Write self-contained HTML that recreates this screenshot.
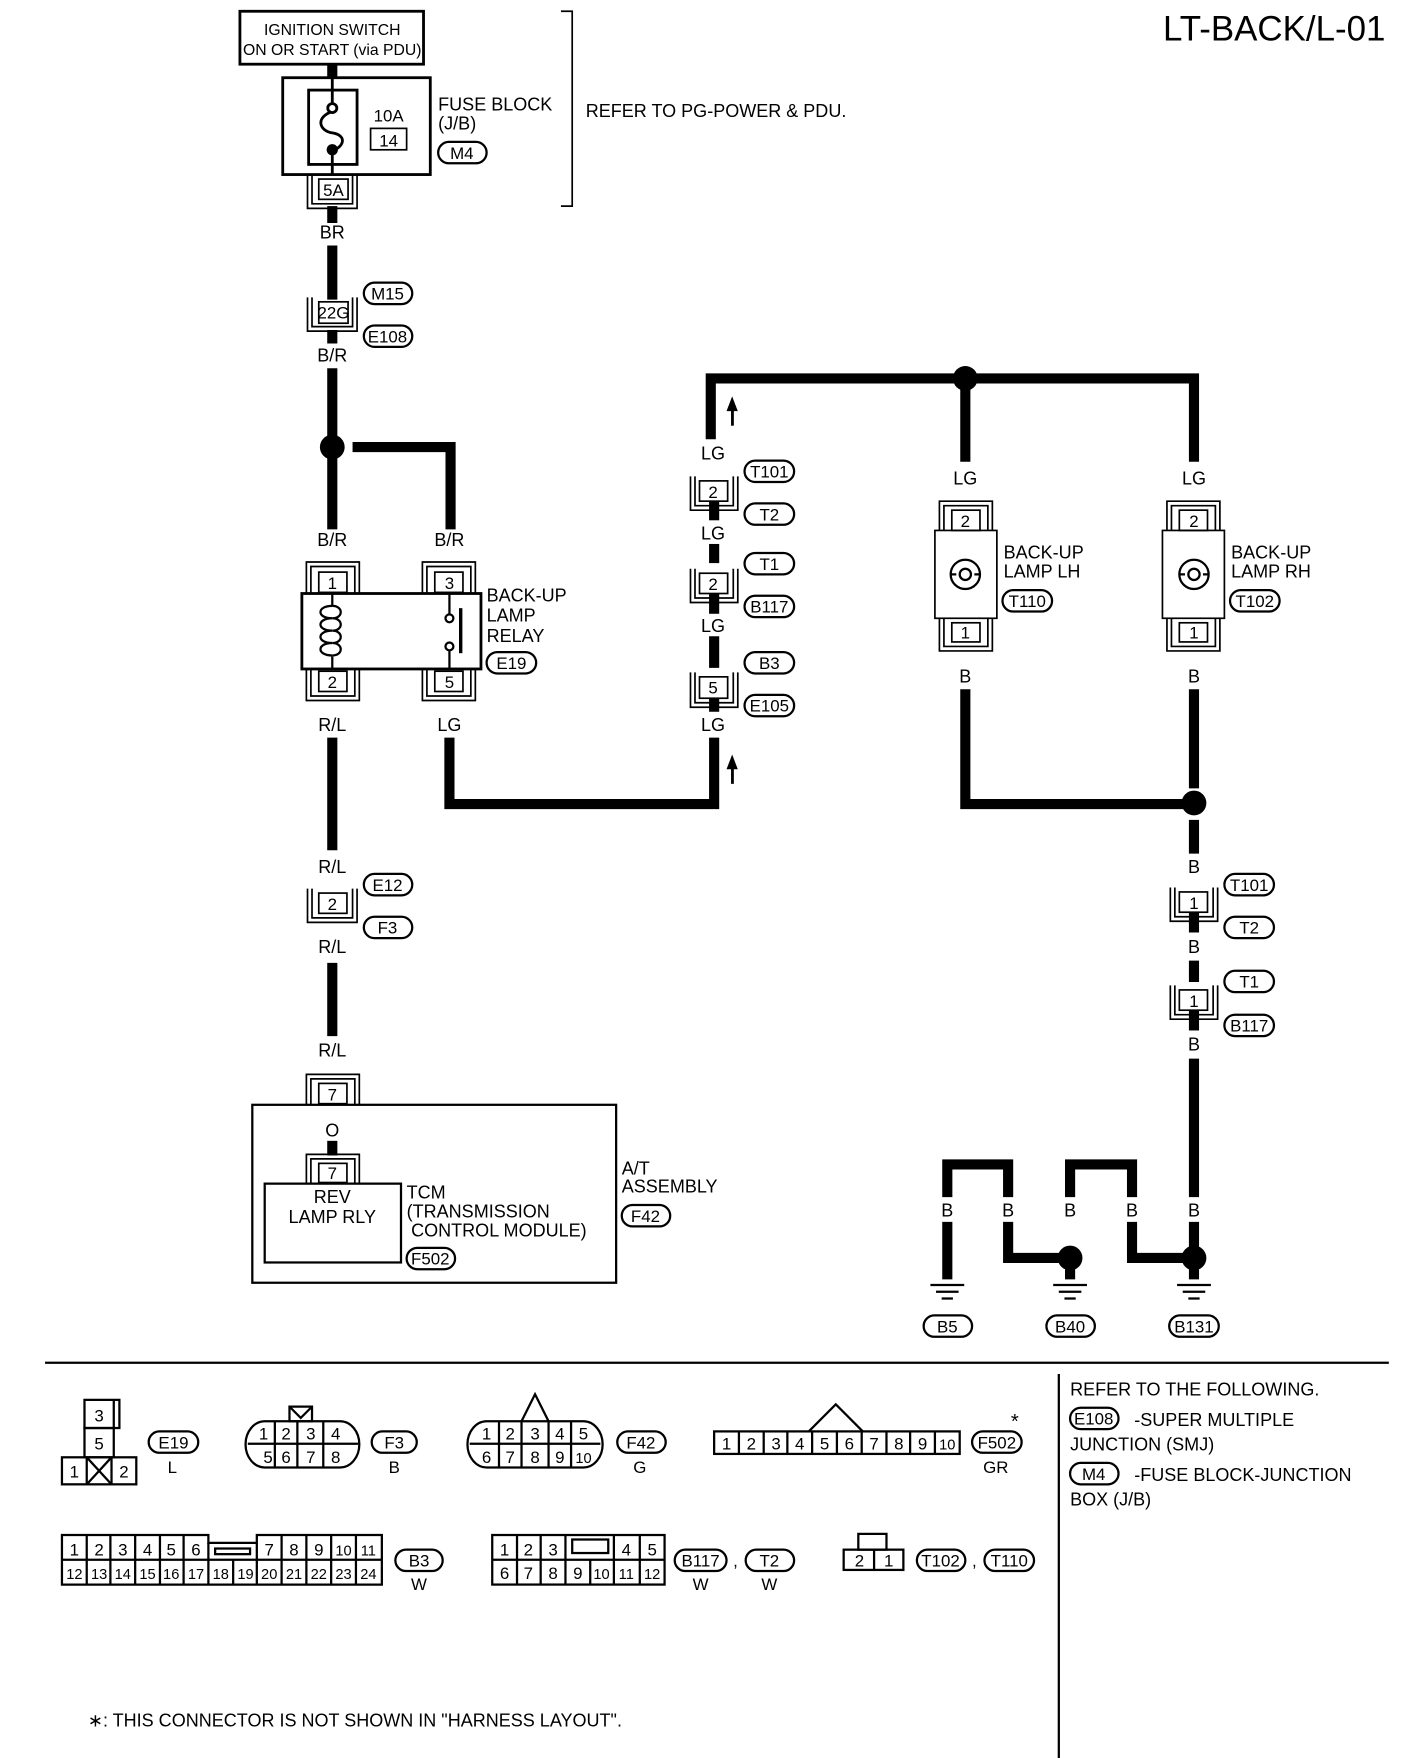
<!DOCTYPE html>
<html><head><meta charset="utf-8"><style>
html,body{margin:0;padding:0;background:#fff}
svg{display:block}
text{font-family:"Liberation Sans",sans-serif;fill:#000}
</style></head><body>
<svg width="1408" height="1758" viewBox="0 0 1250 1561" preserveAspectRatio="none" xmlns="http://www.w3.org/2000/svg">
<g fill="none" stroke="#000" stroke-width="2">
<!-- title -->
</g>
<text x="1230" y="36" font-size="31" text-anchor="end">LT-BACK/L-01</text>

<!-- ignition -->
<rect x="213" y="10" width="163" height="47" fill="none" stroke="#000" stroke-width="2.5"/>
<text x="295" y="31" font-size="14" text-anchor="middle">IGNITION SWITCH</text>
<text x="295" y="49" font-size="14" text-anchor="middle">ON OR START (via PDU)</text>

<g stroke="#000" stroke-width="9" fill="none">
<line x1="295" y1="57" x2="295" y2="70"/>
<line x1="295" y1="183" x2="295" y2="198"/>
<line x1="295" y1="218" x2="295" y2="266"/>
<line x1="295" y1="293" x2="295" y2="305"/>
<line x1="295" y1="327" x2="295" y2="470"/>
<polyline points="313,397 400,397 400,470"/>
<line x1="295" y1="655" x2="295" y2="755"/>
<line x1="295" y1="855" x2="295" y2="920"/>
<line x1="295" y1="1013" x2="295" y2="1026"/>
<polyline points="399,655 399,714 634,714 634,655"/>
<line x1="634" y1="620" x2="634" y2="632"/>
<line x1="634" y1="565" x2="634" y2="593"/>
<line x1="634" y1="527" x2="634" y2="545"/>
<line x1="634" y1="483" x2="634" y2="500"/>
<line x1="634" y1="445" x2="634" y2="462"/>
<polyline points="631,390 631,336 1060,336 1060,410"/>
<line x1="857" y1="336" x2="857" y2="410"/>
<polyline points="857,612 857,714 1060,714"/>
<line x1="1060" y1="612" x2="1060" y2="700"/>
<line x1="1060" y1="728" x2="1060" y2="758"/>
<line x1="1060" y1="810" x2="1060" y2="828"/>
<line x1="1060" y1="853" x2="1060" y2="872"/>
<line x1="1060" y1="897" x2="1060" y2="915"/>
<line x1="1060" y1="940" x2="1060" y2="1063"/>
<polyline points="841,1063 841,1034 895,1034 895,1063"/>
<polyline points="950,1063 950,1034 1005,1034 1005,1063"/>
<line x1="841" y1="1085" x2="841" y2="1136"/>
<polyline points="895,1085 895,1117 950,1117"/>
<polyline points="1005,1085 1005,1117 1060,1117"/>
<line x1="1060" y1="1085" x2="1060" y2="1136"/>
<line x1="950" y1="1117" x2="950" y2="1136"/>
</g>
<g fill="#000">
<circle cx="295" cy="397" r="11"/>
<circle cx="857" cy="336" r="11"/>
<circle cx="1060" cy="713" r="11"/>
<circle cx="950" cy="1117" r="11"/>
<circle cx="1060" cy="1117" r="11"/>
<polygon points="650,352 645,365 655,365"/><rect x="649" y="363" width="2.5" height="15"/>
<polygon points="650,670 645,683 655,683"/><rect x="649" y="681" width="2.5" height="15"/>
</g>

<!-- fuse block -->
<g fill="none" stroke="#000" stroke-width="2.5">
<rect x="251" y="69" width="131" height="86"/>
<rect x="274" y="80" width="43" height="66"/>
<line x1="295" y1="70" x2="295" y2="92"/>
<line x1="295" y1="136" x2="295" y2="155"/>
<path d="M295,99 C280,104 283,116 295,118 C308,120 306,130 295,134"/>
<circle cx="295" cy="96" r="4" fill="#fff"/>
<rect x="329" y="114" width="32" height="19" stroke-width="1.5"/>
<path d="M498,10 H508 V183 H498" stroke-width="1.5"/>
</g>
<circle cx="295" cy="133" r="5"/>
<text x="345" y="108" font-size="15" text-anchor="middle">10A</text>
<text x="345" y="130" font-size="15" text-anchor="middle">14</text>
<text x="389" y="98" font-size="16">FUSE BLOCK</text>
<text x="389" y="115" font-size="16">(J/B)</text>
<text x="520" y="104" font-size="16">REFER TO PG-POWER &amp; PDU.</text>

<!-- connector helper drawings -->
<g fill="none" stroke="#000" stroke-width="1.5">
<!-- 5A -->
<rect x="283" y="159" width="26" height="18"/>
<path d="M277,155 V181 H313 V155 M273,155 V185 H317 V155"/>
<!-- 22G -->
<rect x="283" y="268" width="26" height="19"/>
<path d="M277,264 V290 H313 V264 M273,264 V294 H317 V264"/>
<!-- relay pins -->
<rect x="283" y="508" width="25" height="18"/><path d="M276,527 V503 H315 V527 M272,527 V499 H319 V527"/>
<rect x="386" y="508" width="25" height="18"/><path d="M379,527 V503 H418 V527 M375,527 V499 H422 V527"/>
<rect x="283" y="596" width="25" height="18"/><path d="M276,594 V618 H315 V594 M272,594 V622 H319 V594"/>
<rect x="386" y="596" width="25" height="18"/><path d="M379,594 V618 H418 V594 M375,594 V622 H422 V594"/>
<!-- E12 2 -->
<rect x="283" y="793" width="25" height="18"/><path d="M277,789 V815 H313 V789 M273,789 V819 H317 V789"/>
<!-- 7 top -->
<rect x="283" y="962" width="25" height="18"/><path d="M276,981 V958 H315 V981 M272,981 V954 H319 V981"/>
<rect x="283" y="1033" width="25" height="17"/><path d="M276,1051 V1029 H315 V1051 M272,1051 V1025 H319 V1051"/>
<!-- LG column connectors -->
<rect x="621" y="427" width="25" height="18"/><path d="M617,423 V449 H651 V423 M613,423 V453 H655 V423"/>
<rect x="621" y="509" width="25" height="18"/><path d="M617,505 V531 H651 V505 M613,505 V535 H655 V505"/>
<rect x="621" y="601" width="25" height="19"/><path d="M617,597 V624 H651 V597 M613,597 V628 H655 V597"/>
<!-- B column -->
<rect x="1047" y="792" width="25" height="18"/><path d="M1043,788 V814 H1077 V788 M1039,788 V818 H1081 V788"/>
<rect x="1047" y="879" width="25" height="18"/><path d="M1043,875 V901 H1077 V875 M1039,875 V905 H1081 V875"/>
<!-- lamps -->
<rect x="845" y="453" width="25" height="18"/><path d="M838,471 V449 H877 V471 M834,471 V445 H881 V471"/>
<rect x="830" y="471" width="55" height="78"/>
<rect x="845" y="553" width="25" height="17"/><path d="M838,549 V574 H877 V549 M834,549 V578 H881 V549"/>
<rect x="1047" y="453" width="25" height="18"/><path d="M1040,471 V449 H1079 V471 M1036,471 V445 H1083 V471"/>
<rect x="1032" y="471" width="55" height="78"/>
<rect x="1047" y="553" width="25" height="17"/><path d="M1040,549 V574 H1079 V549 M1036,549 V578 H1083 V549"/>
</g>
<g fill="none" stroke="#000" stroke-width="2">
<circle cx="857" cy="510" r="13"/><path d="M852,510 a5,5 0 1,1 10,0 a5,5 0 1,1 -10,0 M844,510 H849 M865,510 H870"/>
<circle cx="1060" cy="510" r="13"/><path d="M1055,510 a5,5 0 1,1 10,0 a5,5 0 1,1 -10,0 M1047,510 H1052 M1068,510 H1073"/>
<!-- relay body -->
<rect x="268" y="527" width="159" height="67" stroke-width="2.5"/>
<line x1="295" y1="527" x2="295" y2="538"/><line x1="295" y1="583" x2="295" y2="594"/>
<path d="M295,538 c-14,0 -14,11 0,11 c-14,0 -14,11 0,11 c-14,0 -14,11 0,11 c-14,0 -14,11 0,11"/>
<path d="M295,538 c10,0 10,11 0,11 c10,0 10,11 0,11 c10,0 10,11 0,11 c10,0 10,11 0,11"/>
<line x1="399" y1="527" x2="399" y2="545"/><line x1="399" y1="577" x2="399" y2="594"/>
<circle cx="399" cy="549" r="3.5" fill="#fff"/><circle cx="399" cy="574" r="3.5" fill="#fff"/>
<line x1="409" y1="540" x2="409" y2="580" stroke-width="3"/>
<!-- AT assembly -->
<rect x="224" y="981" width="323" height="158"/>
<rect x="235" y="1051" width="121" height="70"/>
</g>

<!-- ground symbols -->
<g stroke="#000" stroke-width="2">
<line x1="826" y1="1141" x2="856" y2="1141"/><line x1="831" y1="1147" x2="851" y2="1147"/><line x1="836" y1="1153" x2="846" y2="1153"/>
<line x1="935" y1="1141" x2="965" y2="1141"/><line x1="940" y1="1147" x2="960" y2="1147"/><line x1="945" y1="1153" x2="955" y2="1153"/>
<line x1="1045" y1="1141" x2="1075" y2="1141"/><line x1="1050" y1="1147" x2="1070" y2="1147"/><line x1="1055" y1="1153" x2="1065" y2="1153"/>
<line x1="40" y1="1210" x2="1233" y2="1210"/>
<line x1="940" y1="1220" x2="940" y2="1561"/>
</g>

<!-- ovals -->
<g fill="none" stroke="#000" stroke-width="2">
<rect x="389" y="126" width="43" height="19" rx="9.5"/>
<rect x="323" y="251" width="43" height="19" rx="9.5"/>
<rect x="323" y="289" width="43" height="19" rx="9.5"/>
<rect x="432" y="579" width="44" height="19" rx="9.5"/>
<rect x="323" y="776" width="43" height="19" rx="9.5"/>
<rect x="323" y="814" width="43" height="19" rx="9.5"/>
<rect x="361" y="1108" width="43" height="19" rx="9.5"/>
<rect x="552" y="1070" width="43" height="19" rx="9.5"/>
<rect x="661" y="409" width="44" height="19" rx="9.5"/>
<rect x="661" y="447" width="44" height="19" rx="9.5"/>
<rect x="661" y="491" width="44" height="19" rx="9.5"/>
<rect x="661" y="529" width="44" height="19" rx="9.5"/>
<rect x="661" y="579" width="44" height="19" rx="9.5"/>
<rect x="661" y="617" width="44" height="19" rx="9.5"/>
<rect x="890" y="524" width="44" height="19" rx="9.5"/>
<rect x="1092" y="524" width="44" height="19" rx="9.5"/>
<rect x="1087" y="776" width="44" height="19" rx="9.5"/>
<rect x="1087" y="814" width="44" height="19" rx="9.5"/>
<rect x="1087" y="862" width="44" height="19" rx="9.5"/>
<rect x="1087" y="901" width="44" height="19" rx="9.5"/>
<rect x="820" y="1168" width="43" height="19" rx="9.5"/>
<rect x="929" y="1168" width="43" height="19" rx="9.5"/>
<rect x="1038" y="1168" width="44" height="19" rx="9.5"/>
<rect x="950" y="1250" width="43" height="19" rx="9.5"/>
<rect x="950" y="1299" width="43" height="19" rx="9.5"/>
<rect x="132" y="1271" width="44" height="19" rx="9.5"/>
<rect x="330" y="1271" width="40" height="19" rx="9.5"/>
<rect x="548" y="1271" width="43" height="19" rx="9.5"/>
<rect x="863" y="1271" width="44" height="19" rx="9.5"/>
<rect x="351" y="1376" width="42" height="19" rx="9.5"/>
<rect x="599" y="1376" width="46" height="19" rx="9.5"/>
<rect x="662" y="1376" width="43" height="19" rx="9.5"/>
<rect x="814" y="1376" width="43" height="19" rx="9.5"/>
<rect x="874" y="1376" width="44" height="19" rx="9.5"/>
</g>
<g font-size="15" text-anchor="middle">
<text x="410" y="141">M4</text>
<text x="344" y="266">M15</text>
<text x="344" y="304">E108</text>
<text x="454" y="594">E19</text>
<text x="344" y="791">E12</text>
<text x="344" y="829">F3</text>
<text x="382" y="1123">F502</text>
<text x="573" y="1085">F42</text>
<text x="683" y="424">T101</text>
<text x="683" y="462">T2</text>
<text x="683" y="506">T1</text>
<text x="683" y="544">B117</text>
<text x="683" y="594">B3</text>
<text x="683" y="632">E105</text>
<text x="912" y="539">T110</text>
<text x="1114" y="539">T102</text>
<text x="1109" y="791">T101</text>
<text x="1109" y="829">T2</text>
<text x="1109" y="877">T1</text>
<text x="1109" y="916">B117</text>
<text x="841" y="1183">B5</text>
<text x="950" y="1183">B40</text>
<text x="1060" y="1183">B131</text>
<text x="971" y="1265">E108</text>
<text x="971" y="1314">M4</text>
<text x="154" y="1286">E19</text>
<text x="350" y="1286">F3</text>
<text x="569" y="1286">F42</text>
<text x="885" y="1286">F502</text>
<text x="372" y="1391">B3</text>
<text x="622" y="1391">B117</text>
<text x="683" y="1391">T2</text>
<text x="835" y="1391">T102</text>
<text x="896" y="1391">T110</text>
</g>
<!-- pin numbers / wire labels -->
<g font-size="15" text-anchor="middle">
<text x="296" y="174">5A</text>
<text x="296" y="283">22G</text>
<text x="295" y="523">1</text><text x="399" y="523">3</text>
<text x="295" y="611">2</text><text x="399" y="611">5</text>
<text x="295" y="808">2</text>
<text x="295" y="977">7</text>
<text x="295" y="1047">7</text>
<text x="633" y="442">2</text><text x="633" y="524">2</text><text x="633" y="616">5</text>
<text x="857" y="468">2</text><text x="857" y="567">1</text>
<text x="1060" y="468">2</text><text x="1060" y="567">1</text>
<text x="1060" y="807">1</text><text x="1060" y="894">1</text>
</g>
<g font-size="16" text-anchor="middle">
<text x="295" y="212">BR</text>
<text x="295" y="321">B/R</text>
<text x="295" y="485">B/R</text><text x="399" y="485">B/R</text>
<text x="295" y="649">R/L</text><text x="399" y="649">LG</text>
<text x="295" y="775">R/L</text><text x="295" y="846">R/L</text><text x="295" y="938">R/L</text>
<text x="295" y="1009">O</text>
<text x="633" y="408">LG</text><text x="633" y="479">LG</text><text x="633" y="561">LG</text><text x="633" y="649">LG</text>
<text x="857" y="430">LG</text><text x="1060" y="430">LG</text>
<text x="857" y="606">B</text><text x="1060" y="606">B</text>
<text x="1060" y="775">B</text><text x="1060" y="846">B</text><text x="1060" y="933">B</text>
<text x="841" y="1080">B</text><text x="895" y="1080">B</text><text x="950" y="1080">B</text><text x="1005" y="1080">B</text><text x="1060" y="1080">B</text>
<text x="295" y="1068">REV</text>
<text x="295" y="1086">LAMP RLY</text>
</g>
<g font-size="16">
<text x="432" y="534">BACK-UP</text><text x="432" y="552">LAMP</text><text x="432" y="570">RELAY</text>
<text x="891" y="496">BACK-UP</text><text x="891" y="513">LAMP LH</text>
<text x="1093" y="496">BACK-UP</text><text x="1093" y="513">LAMP RH</text>
<text x="361" y="1064">TCM</text><text x="361" y="1081">(TRANSMISSION</text><text x="365" y="1098">CONTROL MODULE)</text>
<text x="552" y="1043">A/T</text><text x="552" y="1059">ASSEMBLY</text>
<text x="950" y="1239">REFER TO THE FOLLOWING.</text>
<text x="1007" y="1266">-SUPER MULTIPLE</text>
<text x="950" y="1288">JUNCTION (SMJ)</text>
<text x="1007" y="1315">-FUSE BLOCK-JUNCTION</text>
<text x="950" y="1337">BOX (J/B)</text>
<text x="78" y="1533">∗: THIS CONNECTOR IS NOT SHOWN IN "HARNESS LAYOUT".</text>
</g>

<!-- bottom connector diagrams -->
<g fill="none" stroke="#000" stroke-width="2">
<rect x="75" y="1243" width="31" height="25"/><line x1="101" y1="1243" x2="101" y2="1268"/>
<rect x="75" y="1268" width="26" height="26"/>
<rect x="55" y="1294" width="66" height="24"/><line x1="77" y1="1294" x2="77" y2="1318"/><line x1="99" y1="1294" x2="99" y2="1318"/>
<path d="M77,1294 L99,1318 M99,1294 L77,1318"/>
<!-- F3 -->
<path d="M235,1262 H302 A17,20.5 0 0 1 302,1303 H235 A17,20.5 0 0 1 235,1262 Z"/>
<line x1="220" y1="1282" x2="318" y2="1282"/>
<line x1="244" y1="1262" x2="244" y2="1303"/><line x1="264" y1="1262" x2="264" y2="1303"/><line x1="287" y1="1262" x2="287" y2="1303"/>
<rect x="257" y="1249" width="20" height="13"/><path d="M257,1249 L267,1259 L277,1249"/>
<!-- F42 -->
<path d="M432,1262 H518 A17,20.5 0 0 1 518,1303 H432 A17,20.5 0 0 1 432,1262 Z"/>
<line x1="417" y1="1282" x2="533" y2="1282"/>
<line x1="443" y1="1262" x2="443" y2="1303"/><line x1="463" y1="1262" x2="463" y2="1303"/><line x1="487" y1="1262" x2="487" y2="1303"/><line x1="507" y1="1262" x2="507" y2="1303"/>
<path d="M463,1262 L475,1238 L487,1262"/>
<!-- F502 -->
<rect x="634" y="1271" width="218" height="20"/>
<path d="M656,1271 V1291 M678,1271 V1291 M699,1271 V1291 M721,1271 V1291 M743,1271 V1291 M765,1271 V1291 M787,1271 V1291 M808,1271 V1291 M830,1271 V1291"/>
<path d="M718,1271 L742,1247 L766,1271"/>
<!-- B3 -->
<path d="M55,1363 H185 V1370 H228 V1363 H339 V1407 H55 Z"/>
<line x1="55" y1="1385" x2="339" y2="1385"/>
<path d="M77,1363 V1385 M98,1363 V1385 M120,1363 V1385 M142,1363 V1385 M163,1363 V1385 M185,1370 V1385 M228,1370 V1385 M250,1363 V1385 M272,1363 V1385 M294,1363 V1385 M316,1363 V1385"/>
<path d="M77,1385 V1407 M98,1385 V1407 M120,1385 V1407 M142,1385 V1407 M163,1385 V1407 M185,1385 V1407 M207,1385 V1407 M228,1385 V1407 M250,1385 V1407 M272,1385 V1407 M294,1385 V1407 M316,1385 V1407"/>
<rect x="191" y="1375" width="31" height="5"/>
<!-- B117 -->
<rect x="437" y="1363" width="153" height="44"/>
<line x1="437" y1="1385" x2="590" y2="1385"/>
<path d="M459,1363 V1407 M480,1363 V1407 M502,1363 V1407 M524,1385 V1407 M545,1363 V1407 M568,1363 V1407"/>
<rect x="508" y="1367" width="32" height="12"/>
<!-- T102 -->
<rect x="749" y="1376" width="53" height="18"/><line x1="776" y1="1376" x2="776" y2="1394"/>
<rect x="762" y="1362" width="25" height="14"/>
</g>
<g font-size="15" text-anchor="middle">
<text x="88" y="1262">3</text><text x="88" y="1287">5</text><text x="66" y="1312">1</text><text x="110" y="1312">2</text>
<text x="234" y="1278">1</text><text x="254" y="1278">2</text><text x="276" y="1278">3</text><text x="298" y="1278">4</text>
<text x="238" y="1299">5</text><text x="254" y="1299">6</text><text x="276" y="1299">7</text><text x="298" y="1299">8</text>
<text x="432" y="1278">1</text><text x="453" y="1278">2</text><text x="475" y="1278">3</text><text x="497" y="1278">4</text><text x="518" y="1278">5</text>
<text x="432" y="1299">6</text><text x="453" y="1299">7</text><text x="475" y="1299">8</text><text x="497" y="1299">9</text><text x="518" y="1299" font-size="13">10</text>
<text x="645" y="1287">1</text><text x="667" y="1287">2</text><text x="689" y="1287">3</text><text x="710" y="1287">4</text><text x="732" y="1287">5</text><text x="754" y="1287">6</text><text x="776" y="1287">7</text><text x="798" y="1287">8</text><text x="819" y="1287">9</text><text x="841" y="1287" font-size="13">10</text>
<text x="153" y="1308">L</text><text x="350" y="1308">B</text><text x="568" y="1308">G</text><text x="884" y="1308">GR</text>
<text x="901" y="1268" font-size="18">*</text>
<text x="66" y="1381">1</text><text x="88" y="1381">2</text><text x="109" y="1381">3</text><text x="131" y="1381">4</text><text x="152" y="1381">5</text><text x="174" y="1381">6</text>
<text x="239" y="1381">7</text><text x="261" y="1381">8</text><text x="283" y="1381">9</text><text x="305" y="1381" font-size="13">10</text><text x="327" y="1381" font-size="13">11</text>
<g font-size="13"><text x="66" y="1402">12</text><text x="88" y="1402">13</text><text x="109" y="1402">14</text><text x="131" y="1402">15</text><text x="152" y="1402">16</text><text x="174" y="1402">17</text><text x="196" y="1402">18</text><text x="218" y="1402">19</text><text x="239" y="1402">20</text><text x="261" y="1402">21</text><text x="283" y="1402">22</text><text x="305" y="1402">23</text><text x="327" y="1402">24</text></g>
<text x="448" y="1381">1</text><text x="469" y="1381">2</text><text x="491" y="1381">3</text><text x="556" y="1381">4</text><text x="579" y="1381">5</text>
<text x="448" y="1402">6</text><text x="469" y="1402">7</text><text x="491" y="1402">8</text><text x="513" y="1402">9</text><text x="534" y="1402" font-size="13">10</text><text x="556" y="1402" font-size="13">11</text><text x="579" y="1402" font-size="13">12</text>
<text x="372" y="1412">W</text><text x="622" y="1412">W</text><text x="683" y="1412">W</text>
<text x="653" y="1391">,</text><text x="865" y="1391">,</text>
<text x="763" y="1391">2</text><text x="789" y="1391">1</text>
</g>
</svg>
</body></html>
